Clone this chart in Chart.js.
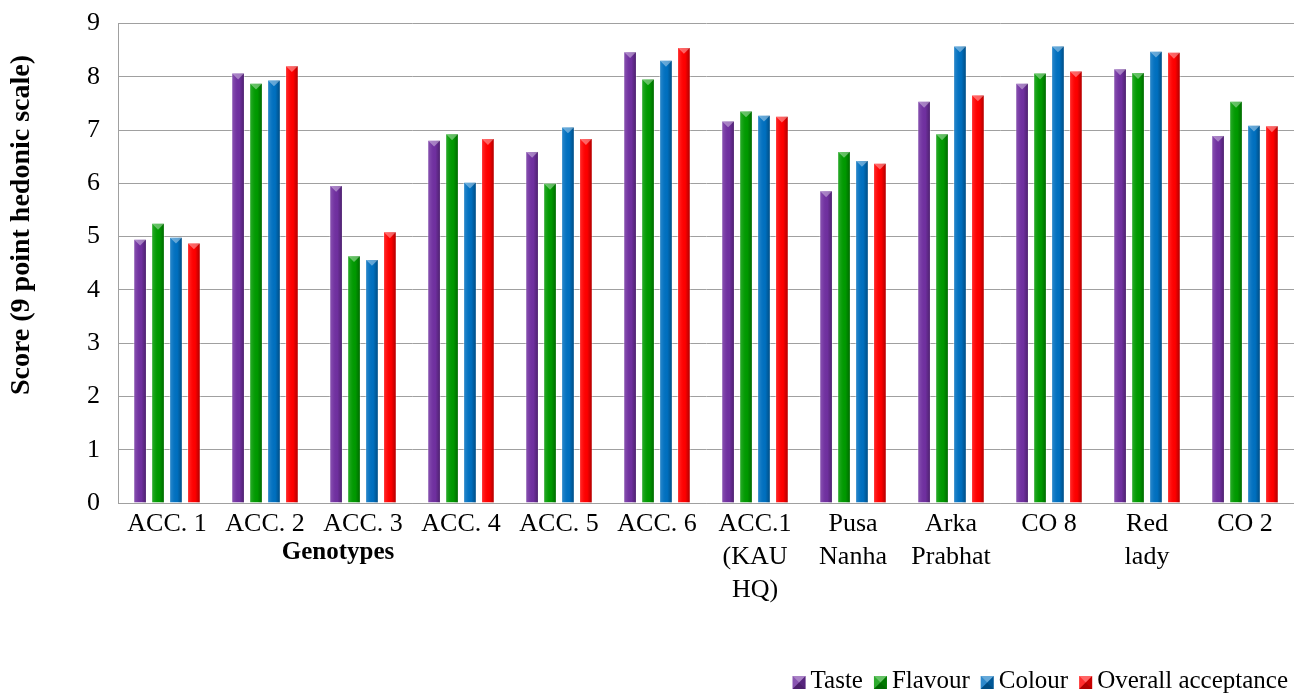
<!DOCTYPE html>
<html>
<head>
<meta charset="utf-8">
<script src="https://cdn.jsdelivr.net/npm/chart.js@4/dist/chart.umd.min.js"></script>
<style>
  html, body { margin: 0; padding: 0; background: #ffffff; overflow: hidden; }
  canvas { display: block; }
</style>
</head>
<body>
<canvas id="chart" width="1294" height="694"></canvas>
<script>
// Sensory scores of papaya genotypes (9 point hedonic scale)
const genotypes = ['ACC. 1', 'ACC. 2', 'ACC. 3', 'ACC. 4', 'ACC. 5', 'ACC. 6',
  ['ACC.1', '(KAU', 'HQ)'], ['Pusa', 'Nanha'], ['Arka', 'Prabhat'], 'CO 8', ['Red', 'lady'], 'CO 2'];
const taste   = [4.96, 8.08, 5.97, 6.82, 6.61, 8.48, 7.18, 5.87, 7.55, 7.89, 8.16, 6.91];
const flavour = [5.26, 7.89, 4.65, 6.94, 6.01, 7.97, 7.37, 6.61, 6.94, 8.08, 8.09, 7.55];
const colour  = [5.00, 7.95, 4.58, 6.03, 7.07, 8.32, 7.29, 6.44, 8.59, 8.59, 8.49, 7.10];
const overall = [4.89, 8.22, 5.10, 6.85, 6.85, 8.56, 7.27, 6.39, 7.67, 8.12, 8.47, 7.09];
const seriesNames = ['Taste', 'Flavour', 'Colour', 'Overall acceptance'];
const seriesColors = ['#7030A0', '#009A00', '#0070C0', '#FF0000'];
const yTicks = [0, 1, 2, 3, 4, 5, 6, 7, 8, 9];
const xTitle = 'Genotypes';
const yTitle = 'Score (9 point hedonic scale)';

const SERIF = '"Liberation Serif", "Times New Roman", serif';

// Bevelled look: lighter left side, darker right side, light top facet
const bevelBars = {
  id: 'bevelBars',
  afterDatasetsDraw(chart) {
    const ctx = chart.ctx;
    ctx.save();
    chart.data.datasets.forEach((ds, i) => {
      const meta = chart.getDatasetMeta(i);
      if (meta.hidden) return;
      meta.data.forEach(bar => {
        const p = bar.getProps(['x', 'y', 'base', 'width'], true);
        const l = p.x - p.width / 2 + 1, r = p.x + p.width / 2 - 1;
        const t = p.y + 1, b = p.base;
        const w = r - l;
        if (b - t <= 0) return;
        const g = ctx.createLinearGradient(l, 0, r, 0);
        g.addColorStop(0, 'rgba(255,255,255,0.16)');
        g.addColorStop(0.3, 'rgba(255,255,255,0.04)');
        g.addColorStop(0.6, 'rgba(0,0,0,0)');
        g.addColorStop(1, 'rgba(0,0,0,0.30)');
        ctx.fillStyle = g;
        ctx.fillRect(l, t, w, b - t);
        const d = Math.min(w / 2, b - t);
        ctx.beginPath();
        ctx.moveTo(l, t);
        ctx.lineTo(r, t);
        ctx.lineTo(p.x, t + d);
        ctx.closePath();
        ctx.fillStyle = 'rgba(255,255,255,0.38)';
        ctx.fill();
      });
    });
    ctx.restore();
  }
};

// Axis titles and the legend row
const annotations = {
  id: 'annotations',
  afterDraw(chart) {
    const ctx = chart.ctx;
    const area = chart.chartArea;
    ctx.save();
    ctx.fillStyle = '#000000';
    ctx.textAlign = 'center';
    ctx.textBaseline = 'middle';

    ctx.font = 'bold 25px ' + SERIF;
    ctx.fillText(xTitle, area.left + 220, 553);

    ctx.save();
    ctx.translate(22, 225);
    ctx.rotate(-Math.PI / 2);
    ctx.font = 'bold 28px ' + SERIF;
    ctx.fillText(yTitle, 0, 0);
    ctx.restore();

    // legend, right aligned
    ctx.font = '25px ' + SERIF;
    ctx.textAlign = 'left';
    const box = 13, gapText = 5, gapItem = 11, rightEdge = 1288, yMid = 681;
    const items = chart.data.datasets.map(ds => ({ text: ds.label, color: ds.backgroundColor, w: ctx.measureText(ds.label).width }));
    let total = 0;
    items.forEach((it, k) => { total += box + gapText + it.w + (k ? gapItem : 0); });
    let x = rightEdge - total;
    items.forEach(it => {
      const bx = x, by = yMid - 5;
      ctx.fillStyle = it.color;
      ctx.fillRect(bx, by, box, box);
      const cx = bx + box / 2, cy = by + box / 2;
      const facet = (pts, style) => {
        ctx.beginPath();
        ctx.moveTo(pts[0][0], pts[0][1]);
        for (let q = 1; q < pts.length; q++) ctx.lineTo(pts[q][0], pts[q][1]);
        ctx.closePath();
        ctx.fillStyle = style;
        ctx.fill();
      };
      facet([[bx, by], [bx + box, by], [cx, cy]], 'rgba(255,255,255,0.40)');
      facet([[bx, by], [cx, cy], [bx, by + box]], 'rgba(255,255,255,0.18)');
      facet([[bx + box, by], [bx + box, by + box], [cx, cy]], 'rgba(0,0,0,0.22)');
      facet([[bx, by + box], [bx + box, by + box], [cx, cy]], 'rgba(0,0,0,0.32)');
      ctx.fillStyle = '#000000';
      ctx.fillText(it.text, bx + box + gapText, yMid);
      x += box + gapText + it.w + gapItem;
    });
    ctx.restore();
  }
};

const values = [taste, flavour, colour, overall];
const datasets = values.map((vals, i) => ({
  label: seriesNames[i],
  data: vals,
  backgroundColor: seriesColors[i],
  borderColor: 'rgba(255,255,255,0.45)',
  borderWidth: 1,
  categoryPercentage: 0.732,
  barPercentage: 0.76
}));

new Chart(document.getElementById('chart'), {
  type: 'bar',
  data: { labels: genotypes, datasets },
  options: {
    responsive: false,
    animation: false,
    layout: { padding: { top: 0, left: 0, right: -5, bottom: 0 } },
    plugins: {
      legend: { display: false },
      tooltip: { enabled: false }
    },
    scales: {
      x: {
        grid: { display: false },
        border: { display: true, color: '#A0A0A0', width: 1 },
        ticks: {
          color: '#000000',
          font: { family: SERIF, size: 26, lineHeight: 1.27 },
          padding: -3,
          maxRotation: 0,
          autoSkip: false
        },
        afterFit(scale) { scale.height = 191; }
      },
      y: {
        min: 0,
        max: 9,
        afterBuildTicks(scale) { scale.ticks = yTicks.map(v => ({ value: v })); },
        grid: { color: '#A0A0A0', lineWidth: 1, drawTicks: true, tickLength: 10, tickColor: 'rgba(0,0,0,0)' },
        border: { display: true, color: '#A0A0A0', width: 1 },
        ticks: {
          color: '#000000',
          font: { family: SERIF, size: 26 },
          padding: 8
        },
        afterFit(scale) { scale.width = 118; }
      }
    }
  },
  plugins: [bevelBars, annotations]
});
</script>
</body>
</html>
